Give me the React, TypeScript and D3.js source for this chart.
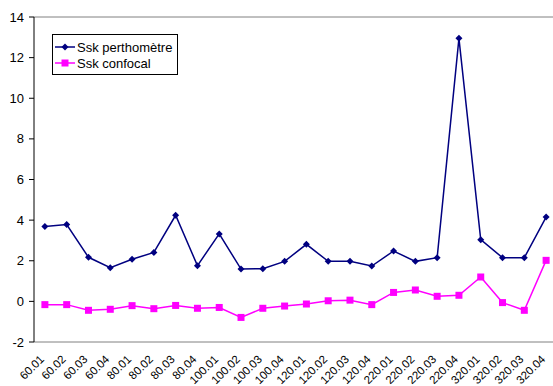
import React from "react";
import * as d3 from "d3";

const categories = ["60.01","60.02","60.03","60.04","80.01","80.02","80.03","80.04","100.01","100.02","100.03","100.04","120.01","120.02","120.03","120.04","220.01","220.02","220.03","220.04","320.01","320.02","320.03","320.04"];
const perthometre = [3.69,3.78,2.17,1.66,2.07,2.41,4.24,1.76,3.32,1.59,1.61,1.97,2.81,1.97,1.97,1.74,2.48,1.97,2.15,12.95,3.04,2.15,2.15,4.15];
const confocal = [-0.16,-0.16,-0.44,-0.39,-0.21,-0.36,-0.2,-0.34,-0.3,-0.79,-0.34,-0.23,-0.13,0.03,0.06,-0.16,0.44,0.56,0.25,0.3,1.2,-0.06,-0.44,2.02];
const yTicks = [-2,0,2,4,6,8,10,12,14];
const seriesNames = ["Ssk perthomètre","Ssk confocal"];

export default function App() {
  const W = 553, H = 386;
  const left = 34, right = 557, top = 17, bottom = 342;
  const x = d3.scaleBand<string>().domain(categories).range([left, right]);
  const y = d3.scaleLinear().domain([-2, 14]).range([bottom, top]);
  const cx = (c: string) => (x(c) as number) + x.bandwidth() / 2;
  const line = d3.line<number>().x((_, i) => cx(categories[i])).y((d) => y(d));
  const font = "'Liberation Sans', Arial, sans-serif";
  const blue = "#000080";
  const mag = "#FF00FF";
  return (
    <svg width={W} height={H} style={{ position: "absolute", left: 0, top: 0, background: "#fff" }} fontFamily={font}>
      <line x1={left} x2={W} y1={top} y2={top} stroke="#808080" />
      <line x1={left} x2={W} y1={bottom} y2={bottom} stroke="#808080" />
      <line x1={left} x2={left} y1={top} y2={bottom} stroke="#000" />
      {yTicks.map((t) => (
        <g key={t}>
          <line x1={left - 5} x2={left} y1={y(t)} y2={y(t)} stroke="#000" />
          <text x={left - 10} y={y(t)} dy="0.35em" textAnchor="end" fontSize={13} fill="#000">{t}</text>
        </g>
      ))}
      {categories.map((c) => (
        <text key={c} transform={`translate(${cx(c) - 3},${bottom + 15}) rotate(-45)`} textAnchor="end" fontSize={11.5} dy="0.35em" fill="#000">{c}</text>
      ))}
      <path d={line(perthometre) || ""} fill="none" stroke={blue} strokeWidth={1.5} />
      <path d={line(confocal) || ""} fill="none" stroke={mag} strokeWidth={1.5} />
      {perthometre.map((v, i) => {
        const px = cx(categories[i]), py = y(v);
        return <path key={i} d={`M${px},${py - 3.5}L${px + 3.5},${py}L${px},${py + 3.5}L${px - 3.5},${py}Z`} fill={blue} />;
      })}
      {confocal.map((v, i) => {
        const px = cx(categories[i]), py = y(v);
        return <rect key={i} x={px - 3.5} y={py - 3.5} width={7} height={7} fill={mag} />;
      })}
      <g>
        <rect x={52.5} y={34.5} width={125} height={40} fill="#fff" stroke="#000" />
        <line x1={55} x2={75} y1={47} y2={47} stroke={blue} strokeWidth={1.5} />
        <path d={`M65,43.5L68.5,47L65,50.5L61.5,47Z`} fill={blue} />
        <text x={77} y={47} dy="0.35em" fontSize={13} fill="#000">{seriesNames[0]}</text>
        <line x1={55} x2={75} y1={63} y2={63} stroke={mag} strokeWidth={1.5} />
        <rect x={61.5} y={59.5} width={7} height={7} fill={mag} />
        <text x={77} y={63} dy="0.35em" fontSize={13} fill="#000">{seriesNames[1]}</text>
      </g>
    </svg>
  );
}
